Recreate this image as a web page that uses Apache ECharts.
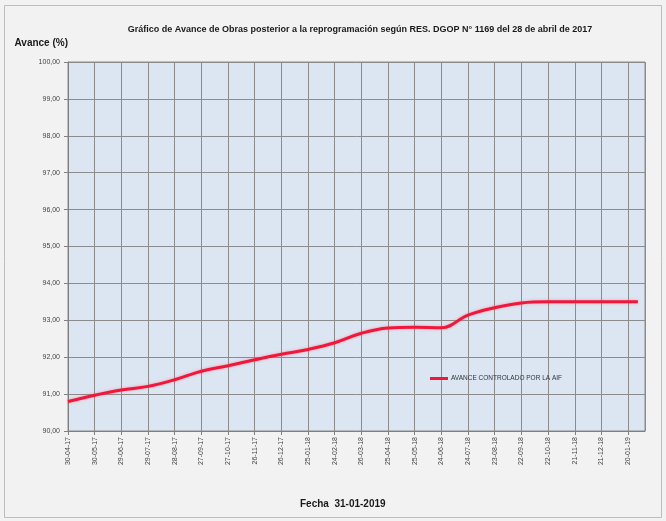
<!DOCTYPE html>
<html>
<head>
<meta charset="utf-8">
<script src="https://cdn.jsdelivr.net/npm/echarts@6/dist/echarts.min.js"></script>
<style>
  html, body { margin: 0; padding: 0; background: #ffffff; }
  #chart { width: 666px; height: 521px; }
</style>
</head>
<body>
<div id="chart"></div>
<script>
// fechas del eje X (cada 30 dias desde 30-04-17)
const fechas = [
  '30-04-17', '30-05-17', '29-06-17', '29-07-17', '28-08-17', '27-09-17',
  '27-10-17', '26-11-17', '26-12-17', '25-01-18', '24-02-18', '26-03-18',
  '25-04-18', '25-05-18', '24-06-18', '24-07-18', '23-08-18', '22-09-18',
  '22-10-18', '21-11-18', '21-12-18', '20-01-19'
];
// dias transcurridos de cada medicion (ultima: 31-01-19)
const dias = [
  0, 30, 60, 90, 120, 150, 180, 210, 240, 270, 300,
  330, 360, 390, 420, 450, 480, 510, 540, 570, 600, 630, 641
];
// avance controlado (%)
const avanceAIF = [
  90.80, 90.97, 91.11, 91.21, 91.39, 91.62, 91.77, 91.93, 92.08, 92.21, 92.39,
  92.65, 92.79, 92.81, 92.80, 93.14, 93.34, 93.47, 93.50, 93.50, 93.50, 93.50, 93.50
];
const yMin = 90, yMax = 100, yStep = 1;
const xStep = 30, xMax = 649;

const myChart = echarts.init(document.getElementById('chart'));

const serie = dias.map(function (d, i) { return [d, avanceAIF[i]]; });

const option = {
  backgroundColor: '#f2f2f2',
  animation: false,
  textStyle: { fontFamily: 'Liberation Sans Narrow, Liberation Sans, Arial, sans-serif' },
  graphic: [
    {
      type: 'rect',
      shape: { x: 4.5, y: 5.5, width: 657, height: 512 },
      style: { fill: 'none', stroke: '#bdbdbd', lineWidth: 1 },
      silent: true
    },
    {
      type: 'text',
      left: 300, top: 499,
      style: { text: 'Fecha  31-01-2019', font: 'bold 10px "Liberation Sans Narrow", "Liberation Sans", sans-serif', fill: '#1a1a1a' }
    }
  ],
  title: {
    text: 'Gráfico de Avance de Obras posterior a la reprogramación según RES. DGOP N° 1169 del 28 de abril de 2017',
    left: 355,
    textAlign: 'center',
    top: 20,
    textStyle: { fontSize: 9, fontWeight: 'bold', color: '#1a1a1a', fontFamily: 'Liberation Sans Narrow, Liberation Sans, sans-serif' }
  },
  legend: {
    left: 425, top: 370,
    itemWidth: 18, itemHeight: 3, itemGap: 2,
    icon: 'rect',
    textStyle: { fontSize: 6.5, color: '#333', padding: [0, 0, 0, -2] },
    data: ['AVANCE CONTROLADO POR LA AIF']
  },
  grid: { left: 68, right: 21, top: 62, bottom: 90, show: true, backgroundColor: '#dce6f2', borderColor: '#8c8c8c', borderWidth: 1 },
  xAxis: {
    type: 'value',
    min: 0, max: xMax, interval: xStep,
    axisLine: { show: true, lineStyle: { color: '#808080', width: 1 } },
    axisTick: { show: true, length: 4, lineStyle: { color: '#808080' } },
    axisLabel: {
      rotate: 90, fontSize: 7, color: '#444', margin: 6,
      showMaxLabel: false,
      formatter: function (v) {
        return v % xStep === 0 ? (fechas[v / xStep] || '') : '';
      }
    },
    splitLine: { show: true, lineStyle: { color: '#8c8c8c', width: 1 } }
  },
  yAxis: {
    type: 'value',
    min: yMin, max: yMax, interval: yStep,
    name: 'Avance (%)',
    nameLocation: 'end',
    nameGap: 14,
    nameTextStyle: { fontSize: 10, fontWeight: 'bold', color: '#1a1a1a', align: 'right' },
    axisLine: { show: true, lineStyle: { color: '#808080', width: 1 } },
    axisTick: { show: true, length: 4, lineStyle: { color: '#808080' } },
    axisLabel: {
      fontSize: 7, color: '#444', margin: 8,
      formatter: function (v) { return v.toFixed(2).replace('.', ','); }
    },
    splitLine: { show: true, lineStyle: { color: '#8c8c8c', width: 1 } }
  },
  series: [
    {
      name: 'AVANCE CONTROLADO POR LA AIF',
      type: 'line',
      data: serie,
      smooth: 0.4,
      symbol: 'none',
      lineStyle: { color: '#f0173a', width: 3, shadowColor: 'rgba(255,80,110,0.5)', shadowBlur: 3 },
      itemStyle: { color: '#f0173a' }
    }
  ]
};

myChart.setOption(option);
</script>
</body>
</html>
